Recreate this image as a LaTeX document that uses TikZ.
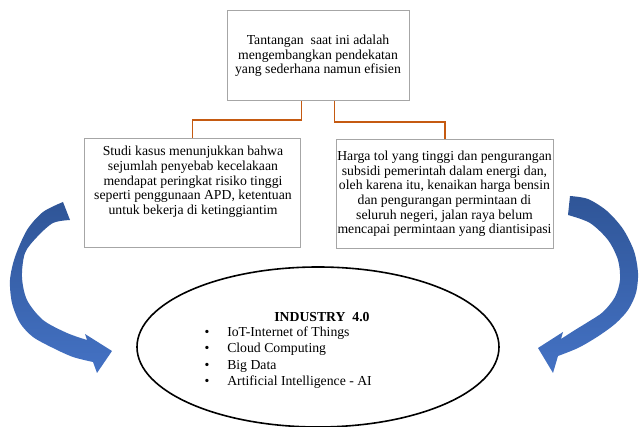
\documentclass[tikz,border=0pt]{standalone}
\usepackage{fontspec}
\setmainfont{Liberation Serif}
\usetikzlibrary{shapes.geometric}
\definecolor{conncol}{HTML}{C55A11}
\definecolor{boxgray}{HTML}{A6A6A6}
\definecolor{arrdark}{HTML}{2F5597}
\definecolor{arrlight}{HTML}{4472C4}
\begin{document}
\begin{tikzpicture}[x=0.75pt,y=-0.75pt,
  txt/.style={font=\fontsize{10.3}{11}\selectfont, inner sep=0pt, align=center},
  panel/.style={draw=boxgray, line width=0.9pt, fill=white, inner sep=0pt, anchor=north west},
  conn/.style={draw=conncol, line width=1.3pt},
  arrowshape/.style={top color=arrdark, bottom color=arrlight, draw=none}]
\useasboundingbox (0,0) rectangle (640,427);

% boxes
\node[panel, minimum width=136.5pt, minimum height=67.5pt] (top) at (227,10) {};
\node[panel, minimum width=162pt, minimum height=81.75pt] (left) at (84,138) {};
\node[panel, minimum width=162.75pt, minimum height=81.75pt] (right) at (336,139) {};

% texts in boxes
\node[txt] (toptext) at (318,56) {Tantangan\ \ saat ini adalah\\mengembangkan pendekatan\\yang sederhana namun efisien};
\node[txt, anchor=north] (lefttext) at (193,146) {Studi kasus menunjukkan bahwa\\sejumlah penyebab kecelakaan\\mendapat peringkat risiko tinggi\\seperti penggunaan APD, ketentuan\\untuk bekerja di ketinggiantim};
\node[txt] (righttext) at (444.5,194) {Harga tol yang tinggi dan pengurangan\\subsidi pemerintah dalam energi dan,\\oleh karena itu, kenaikan harga bensin\\dan pengurangan permintaan di\\seluruh negeri, jalan raya belum\\mencapai permintaan yang diantisipasi};

% connectors
\draw[conn] ([xshift=-12.75pt]top.south) -- ++(0,19) -| (left.north);
\draw[conn] ([xshift=12pt]top.south) -- ++(0,21) -| (right.north);

% ellipse
\node[ellipse, draw=black, line width=1.2pt, minimum width=271.5pt, minimum height=120pt, inner sep=0pt] (ell) at (318,347) {};
\node[txt, font=\fontsize{10.3}{11}\selectfont\bfseries] (title) at (322,317) {INDUSTRY\ \ 4.0};
\foreach \y/\t/\n in {333/IoT-Internet of Things/a, 349/Cloud Computing/b, 366/Big Data/c, 382/Artificial Intelligence - AI/d}{
  \node[txt] (bul\n) at (207,\y) {•};
  \node[txt, anchor=west] (item\n) at (227,\y) {\t};
}

% curved arrows
\path[arrowshape] plot[smooth] coordinates {(63,202) (43,212) (27,230) (15,257) (10,280) (12,303) (20,323) (33,337) (53,348) (73,357) (93,362)}
  -- (97,373) -- (112,351) -- (85,334)
  -- plot[smooth] coordinates {(87,340) (67,333) (43,320) (27,300) (22,277) (25,253) (37,237) (53,223) (70,220)} -- cycle;
\path[arrowshape] plot[smooth] coordinates {(570,196) (588,199) (607,211) (623,229) (634,251) (638,273) (636,293) (628,310) (615,324) (597,337) (578,348) (558,356)}
  -- (553,373) -- (538,348) -- (563,332)
  -- plot[smooth] coordinates {(561,339) (575,330) (588,322) (603,312) (615,297) (620,280) (618,260) (608,240) (590,223) (568,215)} -- cycle;
\end{tikzpicture}
\end{document}
